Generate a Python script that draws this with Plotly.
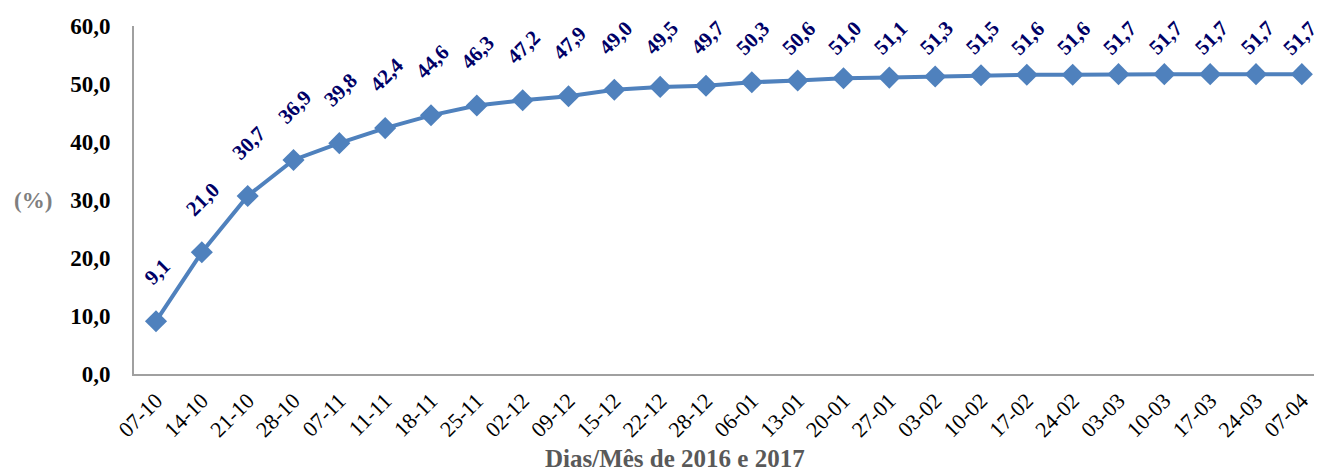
import plotly.graph_objects as go

categories = ["07-10", "14-10", "21-10", "28-10", "07-11", "11-11", "18-11", "25-11",
              "02-12", "09-12", "15-12", "22-12", "28-12", "06-01", "13-01", "20-01",
              "27-01", "03-02", "10-02", "17-02", "24-02", "03-03", "10-03", "17-03",
              "24-03", "07-04"]
values = [9.1, 21.0, 30.7, 36.9, 39.8, 42.4, 44.6, 46.3, 47.2, 47.9, 49.0, 49.5, 49.7,
          50.3, 50.6, 51.0, 51.1, 51.3, 51.5, 51.6, 51.6, 51.7, 51.7, 51.7, 51.7, 51.7]
y_ticks = [0, 10, 20, 30, 40, 50, 60]
y_tick_labels = ["0,0", "10,0", "20,0", "30,0", "40,0", "50,0", "60,0"]

SERIF = "Liberation Serif, Times New Roman, serif"
LINE = "#4F81BD"

Y_MAX = 60
PLOT_H = 348          # plot-area height in px
PX_PER_UNIT = PLOT_H / Y_MAX
LABEL_GAP = 29        # px between marker and label box bottom
LABEL_H = 36          # rotated label box height
TOP_ROOM = 0          # labels kept inside the plot top (like Excel's clamp)

fig = go.Figure()
fig.add_trace(go.Scatter(
    x=list(range(len(categories))), y=values, mode="lines+markers",
    line=dict(color=LINE, width=4),
    marker=dict(symbol="diamond", size=17, color=LINE),
    hoverinfo="skip", showlegend=False,
))

n = len(values)
for i, v in enumerate(values):
    dist_to_top = (Y_MAX - v) * PX_PER_UNIT  # px from point to plot top
    shift = min(LABEL_GAP, dist_to_top + TOP_ROOM - LABEL_H)
    fig.add_annotation(
        x=i, y=v, text="<b>" + f"{v:.1f}".replace(".", ",") + "</b>",
        showarrow=False, textangle=-45, yanchor="bottom", xanchor="center",
        yshift=shift, xshift=(-2 if i == n - 1 else 1),
        font=dict(family=SERIF, size=21, color="#000066"),
    )

fig.add_annotation(
    xref="paper", yref="y", x=-0.085, y=30, text="<b>(%)</b>", showarrow=False,
    font=dict(family=SERIF, size=23, color="#7F7F7F"), xanchor="center",
)
fig.add_annotation(
    xref="paper", yref="paper", x=0.455, y=-0.243, text="<b>Dias/Mês de 2016 e 2017</b>",
    showarrow=False, font=dict(family=SERIF, size=25, color="#595959"),
    xanchor="center", yanchor="middle", borderpad=0,
)

fig.update_xaxes(
    range=[-0.48, 25.44], tickmode="array", tickvals=list(range(len(categories))),
    ticktext=categories, tickangle=-45, showgrid=False, zeroline=False,
    showline=True, linecolor="#A0A0A0", linewidth=2, ticks="outside", ticklen=3,
    tickcolor="rgba(0,0,0,0)", automargin=False,
    tickfont=dict(family=SERIF, size=22, color="#000000"),
)
fig.update_yaxes(
    range=[0, Y_MAX], tickmode="array", tickvals=y_ticks,
    ticktext=["<b>" + t + "</b>" for t in y_tick_labels],
    showgrid=False, zeroline=False, showline=True, linecolor="#A0A0A0", linewidth=2,
    ticks="outside", ticklen=17, tickcolor="rgba(0,0,0,0)", automargin=False,
    tickfont=dict(family=SERIF, size=23, color="#000000"),
)
fig.update_layout(
    width=1314, height=465, margin=dict(l=126, r=0, t=18, b=99),
    plot_bgcolor="white", paper_bgcolor="white",
)
fig.write_html("out.html")
